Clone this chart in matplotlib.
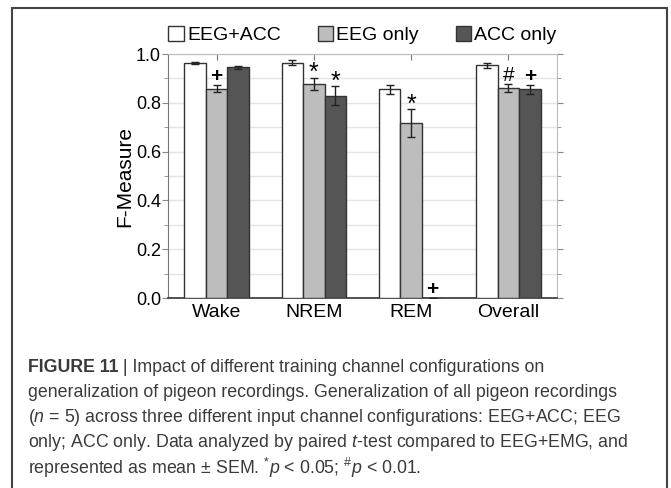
import numpy as np
import matplotlib
matplotlib.use('Agg')
import matplotlib.pyplot as plt
from matplotlib.patches import Rectangle, Patch
from matplotlib.ticker import MultipleLocator

plt.rcParams['font.family'] = ['Liberation Sans', 'DejaVu Sans']
plt.rcParams['mathtext.fontset'] = 'custom'
plt.rcParams['mathtext.rm'] = 'Liberation Sans'
plt.rcParams['mathtext.it'] = 'Liberation Sans:italic'
plt.rcParams['mathtext.bf'] = 'Liberation Sans:bold'

# data
stages = ['Wake', 'NREM', 'REM', 'Overall']
configs = ['EEG+ACC', 'EEG only', 'ACC only']
eeg_acc = [0.964, 0.964, 0.856, 0.953]
eeg_acc_err = [0.005, 0.010, 0.018, 0.011]
eeg_only = [0.858, 0.878, 0.716, 0.862]
eeg_only_err = [0.014, 0.025, 0.058, 0.016]
acc_only = [0.945, 0.830, 0.0, 0.855]
acc_only_err = [0.005, 0.039, 0.0, 0.018]
# significance markers per stage (EEG+ACC, EEG only, ACC only)
marks = [['', '+', ''], ['', '*', '*'], ['', '*', '+'], ['', '#', '+']]

colors = ['white', '#bdbdbd', '#555555']
means = [eeg_acc, eeg_only, acc_only]
errs = [eeg_acc_err, eeg_only_err, acc_only_err]

fig = plt.figure(figsize=(6.71, 4.88), dpi=100)
ax = fig.add_axes([0.2504, 0.3893, 0.5797, 0.5000])

x = np.arange(len(stages)) + 0.5
w = 0.221
for i in range(3):
    xi = x + (i - 1) * w
    ax.bar(xi, means[i], w, color=colors[i], edgecolor='#333333', linewidth=1.0,
           zorder=3, label=configs[i])
    ax.errorbar(xi, means[i], yerr=errs[i], fmt='none', ecolor='#222222',
                elinewidth=1.0, capsize=3, capthick=1.0, zorder=4)
    for j in range(len(stages)):
        m = marks[j][i]
        if m == '':
            continue
        top = means[i][j] + errs[i][j]
        if m == '*':
            ax.text(xi[j], top + 0.018, m, ha='center', va='center', fontsize=18, zorder=5)
        else:
            ax.text(xi[j], top + 0.036, m, ha='center', va='center', fontsize=15,
                    fontweight='bold' if m == '+' else 'normal', zorder=5)

ax.set_xlim(0, 4)
ax.set_ylim(0, 1.0)
ax.set_xticks(x)
ax.set_xticklabels(stages, fontsize=14)
ax.yaxis.set_major_locator(MultipleLocator(0.2))
ax.yaxis.set_minor_locator(MultipleLocator(0.1))
ax.set_yticklabels(['%.1f' % v for v in ax.get_yticks()], fontsize=13)
ax.grid(axis='y', which='both', color='#e4e4e4', linewidth=1.0, zorder=0)
ax.set_axisbelow(True)
ax.set_ylabel('F-Measure', fontsize=15, labelpad=1)

ax.tick_params(axis='x', top=True, direction='in', length=4, color='#777777', pad=4)
for t in ax.xaxis.get_major_ticks():
    t.tick1line.set_visible(False)
ax.tick_params(axis='y', which='major', right=True, direction='out', length=4,
               color='#888888', pad=1)
ax.tick_params(axis='y', which='minor', right=True, direction='out', length=3,
               color='#888888')

ax.spines['left'].set_color('#777777')
ax.spines['bottom'].set_color('#333333')
ax.spines['bottom'].set_linewidth(1.2)
ax.spines['top'].set_color('#bbbbbb')
ax.spines['right'].set_color('#bbbbbb')

handles = [Patch(facecolor=c, edgecolor='#333333', linewidth=1.0) for c in colors]
fig.legend(handles, configs, loc='center', bbox_to_anchor=(0.54, 0.928), ncol=3,
           frameon=False, fontsize=14, handlelength=0.8, handleheight=0.8,
           handletextpad=0.15, columnspacing=1.9, borderaxespad=0)

# outer frame of the figure panel
fig.patches.append(Rectangle((12 / 671, -0.05), 655 / 671, 1 - 8 / 488 + 0.05,
                             transform=fig.transFigure, fill=False,
                             edgecolor='#444444', linewidth=1.5))

# caption
cap_color = '#3a3a3a'
cap_size = 12.8
cx = 28 / 671
ys = [367, 392.3, 417.5, 442.7, 468]
b = fig.text(cx, 1 - ys[0] / 488, 'FIGURE 11', fontsize=cap_size, fontweight='bold',
             color=cap_color, va='center')
ax.annotate(' | Impact of different training channel configurations on', xy=(1, 0.5),
            xycoords=b, va='center', ha='left', fontsize=cap_size, color=cap_color,
            annotation_clip=False)
lines = ['generalization of pigeon recordings. Generalization of all pigeon recordings',
         '($n$ = 5) across three different input channel configurations: EEG+ACC; EEG',
         'only; ACC only. Data analyzed by paired $t$-test compared to EEG+EMG, and',
         'represented as mean ± SEM. $^{*}p$ < 0.05; $^{\\#}p$ < 0.01.']
for yy, s in zip(ys[1:], lines):
    fig.text(cx, 1 - yy / 488, s, fontsize=cap_size, color=cap_color, va='center')

fig.savefig('out.png', dpi=100)
